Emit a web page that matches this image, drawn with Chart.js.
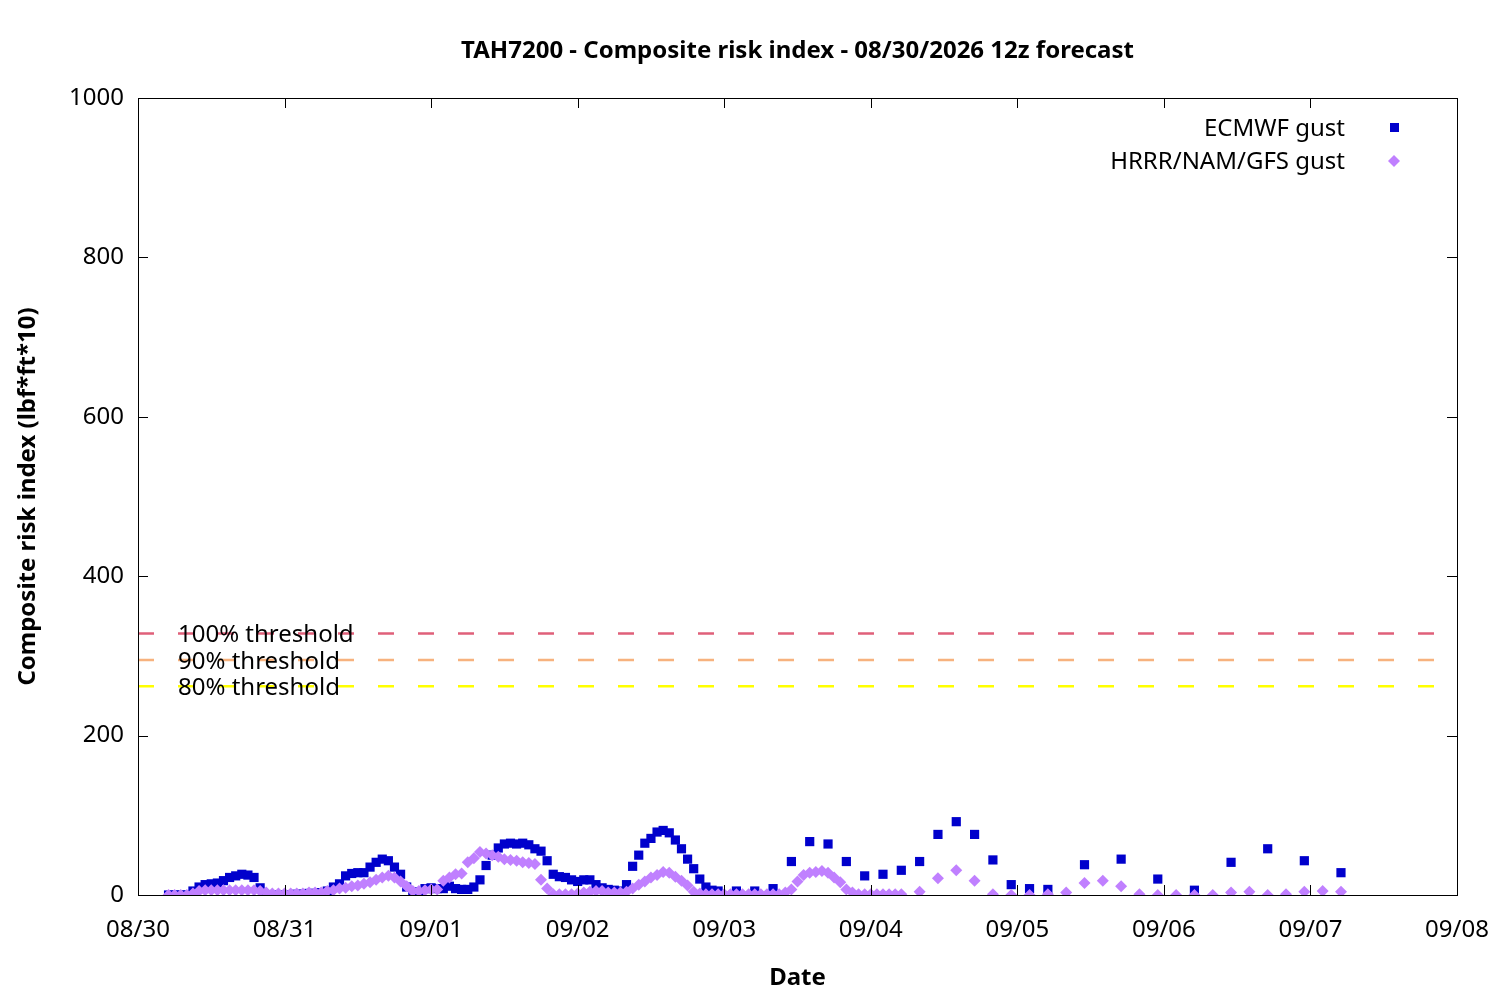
<!DOCTYPE html>
<html>
<head>
<meta charset="utf-8">
<script src="https://cdn.jsdelivr.net/npm/chart.js@4.4.0/dist/chart.umd.min.js"></script>
<style>
  html, body { margin: 0; padding: 0; background: #fff; }
  #wrap { width: 1500px; height: 1000px; }
</style>
</head>
<body>
<div id="wrap"><canvas id="grafico"></canvas></div>
<script>
// forecast init 08/30 12z = 05:00 local; x axis in hours since 08/30 00:00
const initHour = 5;
const dateLabels = ["08/30", "08/31", "09/01", "09/02", "09/03", "09/04", "09/05", "09/06", "09/07", "09/08"];

const ecmwfLead = [
  0, 1, 2, 3, 4, 5, 6, 7, 8, 9, 10, 11, 12, 13, 14, 15, 16, 17, 18, 19,
  20, 21, 22, 23, 24, 25, 26, 27, 28, 29, 30, 31, 32, 33, 34, 35, 36, 37, 38, 39,
  40, 41, 42, 43, 44, 45, 46, 47, 48, 49, 50, 51, 52, 53, 54, 55, 56, 57, 58, 59,
  60, 61, 62, 63, 64, 65, 66, 67, 68, 69, 70, 71, 72, 73, 74, 75, 76, 77, 78, 79,
  80, 81, 82, 83, 84, 85, 86, 87, 88, 89, 90,
  93, 96, 99, 102, 105, 108, 111, 114, 117, 120, 123, 126, 129, 132, 135, 138, 141, 144,
  150, 156, 162, 168, 174, 180, 186, 192
];
const ecmwfGust = [
  0, 0, 0, 0, 5, 10, 13, 14, 15, 18, 22, 24, 26, 25, 22, 9, 0, 0, 0, 0,
  0, 1, 1, 2, 2, 3, 5, 10, 14, 24, 27, 28, 28, 35, 41, 45, 43, 35, 26, 10,
  1, 4, 8, 9, 8, 8, 11, 8, 7, 7, 10, 19, 37, 50, 59, 64, 65, 64, 65, 63,
  58, 55, 43, 26, 23, 22, 19, 17, 19, 19, 13, 9, 7, 6, 5, 13, 36, 50, 65, 71,
  79, 81, 78, 69, 58, 45, 33, 20, 10, 6, 5,
  5, 5, 8, 42, 67, 64, 42, 24, 26, 31, 42, 76, 92, 76, 44, 13, 8, 7,
  38, 45, 20, 6, 41, 58, 43, 28
];

const modelLead = [
  0, 1, 2, 3, 4, 5, 6, 7, 8, 9, 10, 11, 12, 13, 14, 15, 16, 17, 18, 19,
  20, 21, 22, 23, 24, 25, 26, 27, 28, 29, 30, 31, 32, 33, 34, 35, 36, 37, 38, 39,
  40, 41, 42, 43, 44, 45, 46, 47, 48, 49, 50, 51, 52, 53, 54, 55, 56, 57, 58, 59,
  60, 61, 62, 63, 64, 65, 66, 67, 68, 69, 70, 71, 72, 73, 74, 75, 76, 77, 78, 79,
  80, 81, 82, 83, 84, 85, 86, 87, 88, 89, 90, 91, 92, 93, 94, 95, 96, 97, 98, 99,
  100, 101, 102, 103, 104, 105, 106, 107, 108, 109, 110, 111, 112, 113, 114, 115, 116, 117, 118, 119, 120,
  123, 126, 129, 132, 135, 138, 141, 144, 147, 150, 153, 156, 159, 162, 165, 168, 171, 174, 177, 180,
  183, 186, 189, 192
];
const modelGust = [
  0, 0, 0, 0, 2, 5, 6, 6, 6, 6, 6, 6, 6, 6, 6, 5, 3, 2, 2, 2,
  2, 2, 2, 3, 3, 3, 5, 6, 8, 9, 11, 12, 14, 16, 19, 22, 24, 22, 17, 11,
  5, 5, 6, 7, 7, 18, 22, 26, 27, 41, 46, 54, 52, 50, 48, 45, 44, 43, 41, 40,
  39, 19, 8, 1, 1, 1, 1, 2, 3, 4, 5, 5, 3, 3, 3, 4, 8, 13, 17, 22,
  25, 29, 28, 23, 18, 12, 4, 2, 1, 1, 1, 1, 1, 1, 1, 1, 1, 1, 1, 1,
  1, 3, 7, 17, 25, 28, 29, 30, 28, 22, 16, 7, 3, 1, 1, 1, 1, 1, 1, 1, 1,
  4, 21, 31, 18, 1, 0, 0, 1, 3, 15, 18, 11, 1, 0, 0, 0, 0, 3, 4, 0,
  1, 4, 5, 4
];

const thresholdNames = ["100% threshold", "90% threshold", "80% threshold"];
const thresholdValues = [328, 295, 262];
const thresholdColors = ["#e0607a", "#f7b27e", "#ffff00"];

const xMax = 216;

function pontos(lead, vals) {
  return lead.map((h, i) => ({ x: h + initHour, y: vals[i] }));
}

const moldura = {
  id: 'moldura',
  afterDatasetsDraw(chart) {
    const { ctx, chartArea: a, scales: { x, y } } = chart;
    ctx.save();
    // frame and inward ticks
    ctx.strokeStyle = '#000';
    ctx.lineWidth = 1;
    ctx.strokeRect(a.left + 0.5, a.top + 0.5, a.right - a.left, a.bottom - a.top);
    ctx.beginPath();
    x.ticks.forEach(t => {
      const px = Math.round(x.getPixelForValue(t.value)) + 0.5;
      ctx.moveTo(px, a.bottom); ctx.lineTo(px, a.bottom - 10);
      ctx.moveTo(px, a.top); ctx.lineTo(px, a.top + 10);
    });
    y.ticks.forEach(t => {
      const py = Math.round(y.getPixelForValue(t.value)) + 0.5;
      ctx.moveTo(a.left, py); ctx.lineTo(a.left + 10, py);
      ctx.moveTo(a.right, py); ctx.lineTo(a.right - 10, py);
    });
    ctx.stroke();

    ctx.fillStyle = '#000';
    ctx.font = '24px "Noto Sans"';
    ctx.textBaseline = 'middle';
    ctx.textAlign = 'left';
    thresholdValues.forEach((v, i) => {
      ctx.fillText(thresholdNames[i], a.left + 40, y.getPixelForValue(v) + 2);
    });

    // key
    ctx.textAlign = 'right';
    ctx.fillText('ECMWF gust', a.right - 112, a.top + 31);
    ctx.fillText('HRRR/NAM/GFS gust', a.right - 112, a.top + 64);
    ctx.fillStyle = '#0000cc';
    ctx.fillRect(a.right - 67, a.top + 25, 9, 9);
    ctx.fillStyle = '#c080ff';
    ctx.beginPath();
    const cx = a.right - 63, cy = a.top + 63;
    ctx.moveTo(cx, cy - 6); ctx.lineTo(cx + 6, cy); ctx.lineTo(cx, cy + 6); ctx.lineTo(cx - 6, cy);
    ctx.closePath();
    ctx.fill();

    // title
    ctx.fillStyle = '#000';
    ctx.textAlign = 'center';
    ctx.font = 'bold 24px "Noto Sans"';
    ctx.fillText('TAH7200 - Composite risk index - 08/30/2026 12z forecast', (a.left + a.right) / 2, 51);
    ctx.restore();
  }
};

Chart.defaults.font.family = '"Noto Sans", sans-serif';
Chart.defaults.font.size = 24;
Chart.defaults.color = '#000';

const linhas = thresholdValues.map((v, i) => ({
  type: 'line',
  label: thresholdNames[i],
  data: [{ x: 0, y: v }, { x: xMax, y: v }],
  borderColor: thresholdColors[i],
  borderWidth: 2.5,
  borderDash: [16, 24],
  pointRadius: 0,
  fill: false
}));

new Chart(document.getElementById('grafico'), {
  type: 'scatter',
  data: {
    datasets: [
      {
        label: 'HRRR/NAM/GFS gust',
        data: pontos(modelLead, modelGust),
        pointStyle: 'rectRot',
        pointRadius: 6,
        borderWidth: 0,
        backgroundColor: '#c080ff'
      },
      {
        label: 'ECMWF gust',
        data: pontos(ecmwfLead, ecmwfGust),
        pointStyle: 'rect',
        pointRadius: 6.5,
        borderWidth: 0,
        backgroundColor: '#0000cc'
      },
      ...linhas
    ]
  },
  options: {
    responsive: true,
    maintainAspectRatio: false,
    animation: false,
    layout: { padding: { top: 98, right: 43, left: 0, bottom: 0 } },
    plugins: { legend: { display: false }, tooltip: { enabled: false } },
    scales: {
      x: {
        type: 'linear',
        min: 0,
        max: xMax,
        grid: { display: false, drawTicks: false },
        border: { display: false },
        ticks: {
          stepSize: 24,
          padding: 21,
          maxRotation: 0,
          autoSkip: false,
          callback: v => dateLabels[v / 24]
        },
        title: { display: true, text: 'Date', font: { weight: 'bold', size: 24 }, padding: { top: 0, bottom: 7 } },
        afterFit: s => { s.height = 105; s.paddingLeft = 0; s.paddingRight = 0; }
      },
      y: {
        min: 0,
        max: 1000,
        grid: { display: false, drawTicks: false },
        border: { display: false },
        ticks: { stepSize: 200, padding: 14, callback: v => String(v) },
        title: { display: true, text: 'Composite risk index (lbf*ft*10)', font: { weight: 'bold', size: 24 }, padding: { top: 14, bottom: 0 } },
        afterFit: s => { s.width = 138; s.paddingTop = 0; s.paddingBottom = 0; }
      }
    }
  },
  plugins: [moldura]
});
</script>
</body>
</html>
